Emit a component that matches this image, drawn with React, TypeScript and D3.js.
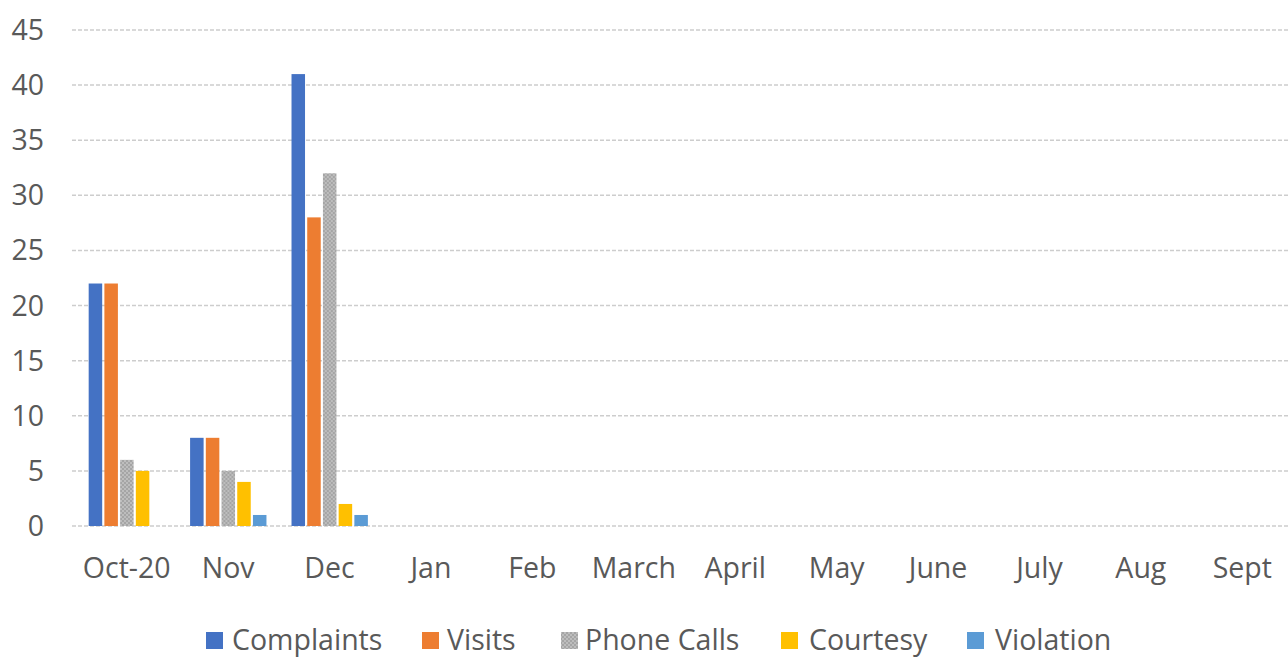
import React from 'react';
import * as d3 from 'd3';

const months = ['Oct-20', 'Nov', 'Dec', 'Jan', 'Feb', 'March', 'April', 'May', 'June', 'July', 'Aug', 'Sept'];
const seriesNames = ['Complaints', 'Visits', 'Phone Calls', 'Courtesy', 'Violation'];
const complaints = [22, 8, 41, 0, 0, 0, 0, 0, 0, 0, 0, 0];
const visits = [22, 8, 28, 0, 0, 0, 0, 0, 0, 0, 0, 0];
const phoneCalls = [6, 5, 32, 0, 0, 0, 0, 0, 0, 0, 0, 0];
const courtesy = [5, 4, 2, 0, 0, 0, 0, 0, 0, 0, 0, 0];
const violation = [0, 1, 1, 0, 0, 0, 0, 0, 0, 0, 0, 0];
const yTicks = [0, 5, 10, 15, 20, 25, 30, 35, 40, 45];

const colors = ['#4472C4', '#ED7D31', 'url(#phonePattern)', '#FFC000', '#5B9BD5'];

const width = 1288;
const height = 658;
const font = '"Open Sans", sans-serif';
const fontSize = 28.5;
const textColor = '#595959';

export default function App() {
  const allSeries = [complaints, visits, phoneCalls, courtesy, violation];

  const x0 = d3.scaleBand<string>()
    .domain(months)
    .range([76, 1293])
    .padding(0);

  const bw = x0.bandwidth();
  const x1 = d3.scaleBand<string>()
    .domain(seriesNames)
    .range([bw * 0.125, bw * 0.878])
    .paddingInner(0.14);

  const y = d3.scaleLinear()
    .domain([0, 45])
    .range([526, 30]);

  // legend layout, measured roughly from the reference
  const legendMarkX = [206, 422, 561, 781, 967];
  const legendTextX = [232, 447, 585, 809, 995];

  return (
    <svg width={width} height={height} style={{ position: 'absolute', left: 0, top: 0, background: '#fff' }}>
      <defs>
        <pattern id="phonePattern" width="4" height="4" patternUnits="userSpaceOnUse">
          <rect width="4" height="4" fill="#A5A5A5" />
          <rect width="2" height="2" fill="#BDBDBD" />
          <rect x="2" y="2" width="2" height="2" fill="#BDBDBD" />
        </pattern>
      </defs>

      {yTicks.map(t => (
        <g key={t}>
          <line x1={72} x2={width} y1={y(t)} y2={y(t)} stroke="#CDCDCD" strokeWidth={1.5} strokeDasharray="4 2" />
          <text x={44} y={y(t) + 10} textAnchor="end" fontFamily={font} fontSize={fontSize} fill={textColor}>{t}</text>
        </g>
      ))}

      {months.map((m, i) => (
        <g key={m} transform={`translate(${x0(m)},0)`}>
          {allSeries.map((s, j) => {
            const v = s[i];
            if (!v) return null;
            return (
              <rect
                key={seriesNames[j]}
                x={x1(seriesNames[j])}
                y={y(v)}
                width={x1.bandwidth()}
                height={y(0) - y(v)}
                fill={colors[j]}
              />
            );
          })}
          <text x={bw / 2} y={578} textAnchor="middle" fontFamily={font} fontSize={fontSize} fill={textColor}>{m}</text>
        </g>
      ))}

      {seriesNames.map((n, j) => (
        <g key={n}>
          <rect x={legendMarkX[j]} y={632} width={17} height={17} fill={colors[j]} />
          <text x={legendTextX[j]} y={650} fontFamily={font} fontSize={fontSize} fill={textColor}>{n}</text>
        </g>
      ))}
    </svg>
  );
}
